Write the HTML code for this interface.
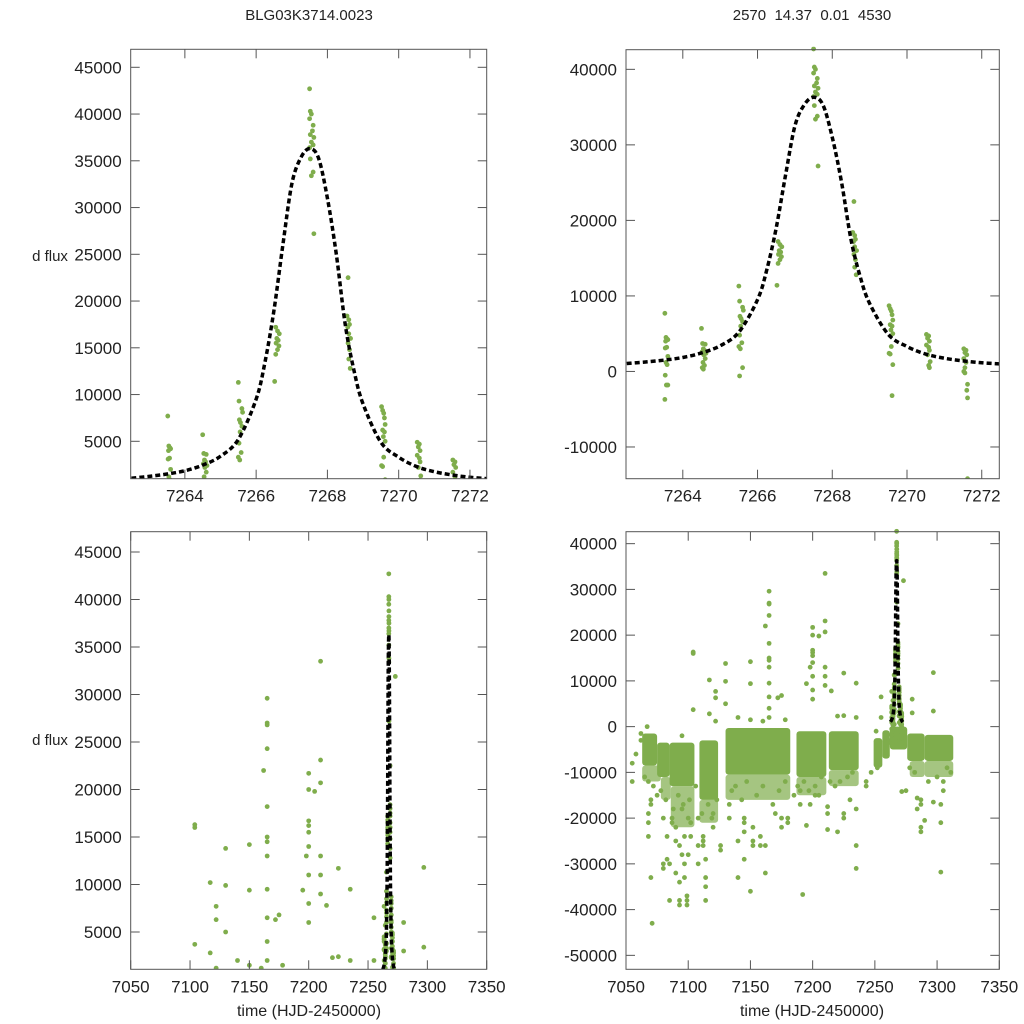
<!DOCTYPE html>
<html><head><meta charset="utf-8"><style>
html,body{margin:0;padding:0;background:#fff;overflow:hidden;width:1024px;height:1024px;}
svg{display:block;}
svg text{font-family:"Liberation Sans",sans-serif;fill:#222;}
</style></head><body>
<svg id="chart" width="1024" height="1024" viewBox="0 0 1024 1024" xmlns="http://www.w3.org/2000/svg">
<text x="309" y="20" font-size="15" text-anchor="middle">BLG03K3714.0023</text>
<text x="812" y="20" font-size="15" text-anchor="middle" xml:space="preserve">2570  14.37  0.01  4530</text>
<text x="50" y="261" font-size="15" text-anchor="middle">d flux</text>
<text x="50" y="745" font-size="15" text-anchor="middle">d flux</text>
<text x="309" y="1016" font-size="16" text-anchor="middle">time (HJD-2450000)</text>
<text x="812" y="1016" font-size="16" text-anchor="middle">time (HJD-2450000)</text>
</svg>
<script>
// event photometry (time, flux)
const evT = [
7263.52,7263.55,7263.58,7263.6,7263.54,7263.57,7263.53,7263.6,7263.55,7263.58,7263.53,7263.56,7263.6,7263.52,
7264.5,7264.53,7264.6,7264.55,7264.58,7264.52,7264.62,7264.56,7264.6,7264.54,7264.58,7264.52,7264.55,
7265.5,7265.52,7265.6,7265.62,7265.53,7265.56,7265.6,7265.55,7265.52,7265.58,7265.5,7265.54,7265.6,7265.52,
7266.55,7266.6,7266.65,7266.58,7266.62,7266.56,7266.64,7266.6,7266.55,7266.52,
7267.5,7267.52,7267.55,7267.5,7267.6,7267.58,7267.52,7267.62,7267.55,7267.6,7267.5,7267.52,7267.6,7267.55,7267.62,
7268.58,7268.55,7268.6,7268.62,7268.57,7268.6,7268.65,7268.58,7268.62,7268.6,7268.64,
7269.52,7269.55,7269.58,7269.6,7269.62,7269.55,7269.6,7269.57,7269.62,7269.58,7269.52,7269.55,7269.62,7269.6,
7270.52,7270.58,7270.55,7270.6,7270.52,7270.58,7270.6,7270.55,7270.62,7270.58,7270.6,
7271.52,7271.58,7271.55,7271.6,7271.52,7271.58,7271.55,7271.52,7271.55,7271.62,7271.6,7271.62,7271.62];
const evF = [
7700,4500,4300,4200,4000,3200,3100,2000,1200,900,-500,-1800,-1800,-3700,
5700,3700,3600,3000,2800,2600,2400,2200,1700,1200,800,500,300,
11300,9300,8500,8100,7300,7000,6600,6000,4800,3800,3300,3000,500,-600,
17200,16800,16500,16000,15800,15500,15200,14800,14300,11400,
42700,40300,40000,39500,38800,38200,37800,37500,37000,36700,36400,35200,33800,33400,27200,
22500,18400,18000,17500,17200,16500,16000,15500,14800,13800,12800,
8700,8300,8000,7500,6800,6200,6000,5500,5000,3300,2400,2300,900,-3200,
4900,4700,4400,4000,3500,3200,2800,2200,1300,800,500,
3000,2800,2500,2200,1700,1200,500,0,-200,-1700,-2500,-3500,-14200];
// season scatter outliers (time, flux in thousands)
const scT = [7055,7055,7058,7062,7062,7067,7068,7068,7068,7068,7070,7070,7070,7071,7075,7080,7080,7080,7083,7083,7085,7085,7087,7087,7090,7090,7090,7093,7093,7093,7093,7095,7095,7095,7097,7097,7097,7099,7099,7099,7100,7100,7102,7102,7104,7104,7104,7108,7108,7108,7112,7112,7112,7114,7114,7114,7114,7117,7117,7120,7120,7122,7122,7122,7126,7126,7130,7130,7130,7133,7133,7140,7140,7140,7145,7145,7145,7145,7150,7150,7150,7152,7152,7152,7158,7158,7162,7162,7162,7165,7165,7165,7165,7165,7165,7165,7165,7165,7165,7165,7165,7170,7172,7175,7175,7175,7180,7180,7190,7190,7192,7195,7195,7198,7198,7200,7200,7200,7200,7200,7200,7200,7200,7200,7202,7202,7205,7205,7210,7210,7210,7210,7210,7210,7212,7212,7212,7215,7220,7225,7225,7225,7225,7230,7235,7235,7235,7235,7243,7243,7251,7255,7255,7261,7273,7275,7280,7280,7284,7284,7287,7287,7287,7287,7290,7297,7297,7297,7303,7303,7303,7305,7305,7150,7160,7178,7220,7235,
7065,7072,7078,7082,7088,7092,7096,7101,7106,7111,7116,7119,7123,7135,7138,7143,7147,7155,7160,7168,7173,7178,7185,7188,7193,7197,7207,7214,7218,7222,7228,7232,7247,7252,7278,7282,7293,7300,7308,7311];
const scF = [-8,-12,-6,-1.5,-3,0,-12,-19,-21,-24,-16,-17,-33,-43,-15,-20,-30,-31,-24,-29,-38,-30,-20,-21,-25,-32,-22,-38,-39,-34,-26,-28,-18,-2,-30,-24,-33,-37,-38,-39,-28,-20,-21,-24,16.3,16,3.7,-30,-26,-20,-25,-24,-26,-33,-35,-38,-29,10.2,2.8,-22,-19,7.7,6.3,1.2,-27,-26,13.8,9.9,5,-20,-17,2,-25,-33,-21,-20,-23,-29,14.2,9.4,-36,-22,-25,-26,-26,-24,22,-26,-32,29.6,27,26.8,24.3,18.2,15,14.5,13,9.5,6.5,4,2,-19,6.3,6.8,-22,-20,-21,-20,-14,-17,-36.7,9.4,-21.6,13,-17,21.7,20,16.7,16.2,15.5,14,11,8,6,-13,-15,19.8,-15,33.5,23.1,20.7,13,11,9,-22.5,-19,-17.5,7.8,-23,11.7,2.4,-19,-20,-16,9.5,-26,-31,-18,-12,-13,-1,6.5,2,-3,31.9,-14,6,3,-15.6,-18,-22,-23,-16,-17,-20.5,11.8,3.4,-16.5,-31.8,-17,-21,-14,-12,1.5,1.2,1.5,2.3,2,
-11,-13,-14,-16,-18,-15,-17,-16,-13,-19,-17,-20,-16,-14,-13,-16,-12,-15,-13,-17,-14,-12,-15,-13,-12,-14,-11,-12,-13,-12,-11,-10,-10,-9,-9,-10,-12,-11,-9,-10];
// dense season cores (time range, flux range)
const bandStart = [7063,7075,7085,7109,7130,7187,7213,7249,7256,7262,7276,7290];
const bandEnd   = [7075,7085,7105,7124,7182,7211,7237,7256,7262,7276,7290,7313];
const bandLow   = [-8500,-11000,-13000,-16000,-10500,-11000,-9500,-9000,-7000,-5000,-7500,-7500];
const bandHigh  = [-1500,-3500,-3500,-3000,-300,-1000,-1000,-2500,-800,0,-1500,-1800];
// sparser halo below the cores
const haloStart = [7063,7078,7086,7109,7130,7187,7213,7278,7290];
const haloEnd   = [7078,7086,7105,7124,7182,7211,7237,7290,7313];
const haloLow   = [-12000,-16000,-22000,-21000,-16000,-15000,-13000,-11000,-11000];
const haloHigh  = [-8500,-11000,-13000,-16000,-10500,-11000,-9500,-7500,-7500];
// microlensing model
const modT = [7262.5,7263,7263.5,7264,7264.5,7265,7265.5,7266,7266.25,7266.5,7266.75,7267,7267.25,7267.5,7267.75,7268,7268.25,7268.5,7268.75,7269,7269.5,7270,7270.5,7271,7271.5,7272,7272.5];
const modF = [1050,1250,1500,1850,2450,3400,5200,9500,13500,19000,26000,32500,35300,36300,35300,31000,25000,17500,12500,9000,4900,3300,2300,1750,1400,1150,1000];
// tick labels
const ticksTopLeftY = [5000,10000,15000,20000,25000,30000,35000,40000,45000];
const ticksTopRightY = [-10000,0,10000,20000,30000,40000];
const ticksBotLeftY = [5000,10000,15000,20000,25000,30000,35000,40000,45000];
const ticksBotRightY = [-50000,-40000,-30000,-20000,-10000,0,10000,20000,30000,40000];
const ticksZoomX = [7264,7266,7268,7270,7272];
const ticksFullX = [7050,7100,7150,7200,7250,7300,7350];

const NS = 'http://www.w3.org/2000/svg';
const svg = document.getElementById('chart');
const GREEN = '#7fad4c';
function mk(tag, attrs, parent){const e=document.createElementNS(NS,tag);for(const k in attrs)e.setAttribute(k,attrs[k]);(parent||svg).appendChild(e);return e;}

const panels = [
 {id:'top-left', x0:130.7,x1:486.7,y0:49.3,y1:478.7, xd:[7262.48,7272.47], yd:[1000,46925], xt:ticksZoomX, yt:ticksTopLeftY, bands:false},
 {id:'top-right',x0:626,x1:999.3,y0:49.7,y1:478.7, xd:[7262.48,7272.47], yd:[-14200,42600], xt:ticksZoomX, yt:ticksTopRightY, bands:false},
 {id:'bottom-left', x0:130.7,x1:486.7,y0:531.7,y1:969.3, xd:[7050,7350], yd:[1074,47137], xt:ticksFullX, yt:ticksBotLeftY, bands:true},
 {id:'bottom-right',x0:626,x1:999.3,y0:531.7,y1:969.3, xd:[7050,7350], yd:[-53050,42614], xt:ticksFullX, yt:ticksBotRightY, bands:true}
];

panels.forEach((p,pi)=>{
  const sx=v=>p.x0+(v-p.xd[0])/(p.xd[1]-p.xd[0])*(p.x1-p.x0);
  const sy=v=>p.y1-(v-p.yd[0])/(p.yd[1]-p.yd[0])*(p.y1-p.y0);
  const g=mk('g',{});
  
  
  const cp=mk('clipPath',{id:'clip'+pi},g);
  mk('rect',{x:p.x0,y:p.y0-3,width:p.x1-p.x0,height:p.y1-p.y0+3},cp);
  const plot=mk('g',{'clip-path':'url(#clip'+pi+')'},g);
  if(p.bands){
    for(let i=0;i<haloStart.length;i++){
      const r=mk('rect',{x:sx(haloStart[i]),y:sy(haloHigh[i]),width:sx(haloEnd[i])-sx(haloStart[i]),height:sy(haloLow[i])-sy(haloHigh[i]),fill:GREEN,'fill-opacity':0.7,rx:3},plot);
      
      
    }
    for(let i=0;i<bandStart.length;i++){
      const r=mk('rect',{x:sx(bandStart[i]),y:sy(bandHigh[i]),width:sx(bandEnd[i])-sx(bandStart[i]),height:sy(bandLow[i])-sy(bandHigh[i]),fill:GREEN,rx:3},plot);
      
      
    }
    for(let i=0;i<scT.length;i++){
      const c=mk('circle',{cx:sx(scT[i]),cy:sy(scF[i]*1000),r:2.4,fill:GREEN},plot);
      
      
    }
  }
  for(let i=0;i<evT.length;i++){
    const c=mk('circle',{cx:sx(evT[i]),cy:sy(evF[i]),r:2.4,fill:GREEN},plot);
    
    
  }
  const pts=modT.map((t,i)=>[sx(t),sy(modF[i])]);
  let d='M'+pts[0][0]+','+pts[0][1];
  for(let i=0;i<pts.length-1;i++){
    const p0=pts[Math.max(0,i-1)],p1=pts[i],p2=pts[i+1],p3=pts[Math.min(pts.length-1,i+2)];
    d+=' C'+(p1[0]+(p2[0]-p0[0])/6)+','+(p1[1]+(p2[1]-p0[1])/6)+' '+(p2[0]-(p3[0]-p1[0])/6)+','+(p2[1]-(p3[1]-p1[1])/6)+' '+p2[0]+','+p2[1];
  }
  const m=mk('path',{d:d,fill:'none',stroke:'#000','stroke-width':3.5,'stroke-dasharray':'5,3'},plot);
  
  
  const fr=mk('rect',{x:p.x0,y:p.y0,width:p.x1-p.x0,height:p.y1-p.y0,fill:'none',stroke:'#555','stroke-width':1},g);
  
  
  p.yt.forEach(v=>{
    const y=sy(v);
    mk('line',{x1:p.x0,x2:p.x0+9,y1:y,y2:y,stroke:'#555'},g);
    mk('line',{x1:p.x1-9,x2:p.x1,y1:y,y2:y,stroke:'#555'},g);
    const t=mk('text',{x:p.x0-9,y:y+6,'font-size':17,'text-anchor':'end'},g);
    t.textContent=v;
    
    
  });
  p.xt.forEach(v=>{
    const x=sx(v);
    mk('line',{x1:x,x2:x,y1:p.y1,y2:p.y1-9,stroke:'#555'},g);
    mk('line',{x1:x,x2:x,y1:p.y0,y2:p.y0+9,stroke:'#555'},g);
    const t=mk('text',{x:x,y:p.y1+23,'font-size':17,'text-anchor':'middle'},g);
    t.textContent=v;
    
    
  });
});
</script>
</body></html>
